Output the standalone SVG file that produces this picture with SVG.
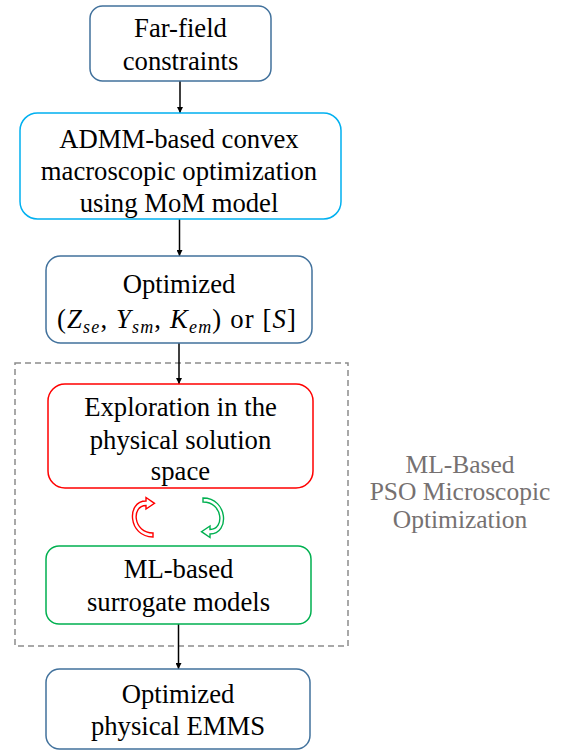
<svg xmlns="http://www.w3.org/2000/svg" width="569" height="751" viewBox="0 0 569 751">
  <style>
    .box { fill: #ffffff; stroke-width: 1.5; }
    .steel { stroke: #41719c; }
    .sky { stroke: #00b0f0; }
    .red { stroke: #ff0000; }
    .green { stroke: #00b050; }
    text { font-family: 'Times New Roman', Times, 'Liberation Serif', Tinos, 'Nimbus Roman', 'Noto Serif', FreeSerif, serif; font-size: 26.7px; fill: #000000; text-anchor: middle; }
    .side { fill: #767171; font-size: 25.5px; }
    .math { font-style: italic; }
    .sub { font-style: italic; font-size: 18px; }
    .conn { stroke: #000000; stroke-width: 1.5; fill: none; marker-end: url(#head); }
    .frame { fill: none; stroke: #8c8c8c; stroke-width: 1.5; stroke-dasharray: 6 4; }
    .loop { fill: #ffffff; stroke-width: 1.4; stroke-linejoin: miter; }
  </style>
  <defs>
    <marker id="head" viewBox="0 0 10 10" refX="10" refY="5" markerWidth="6" markerHeight="6" markerUnits="userSpaceOnUse" orient="auto">
      <path d="M0,0 L10,5 L0,10 Z" fill="#000000"/>
    </marker>
    <!-- hollow curved arrow, opening to the right, head pointing right at the top -->
    <path id="curl" d="M153,537 C128,537 126,501 146,501 L146,497.5 L154.5,503.3 L146,509 L146,505.5 C131,505.5 133,533 153,533 Z"/>
  </defs>

  <!-- dashed frame around the microscopic optimisation loop -->
  <rect class="frame" x="15" y="363" width="333" height="283"/>
  <g id="pso-label">
    <text class="side" x="460" y="473">ML-Based</text>
    <text class="side" x="460" y="500">PSO Microscopic</text>
    <text class="side" x="460" y="528">Optimization</text>
  </g>

  <g id="connectors">
    <line class="conn" x1="180" y1="81" x2="180" y2="113"/>
    <line class="conn" x1="179.5" y1="219" x2="179.5" y2="256"/>
    <line class="conn" x1="179" y1="343" x2="179" y2="384"/>
    <line class="conn" x1="178.5" y1="624" x2="178.5" y2="669"/>
    <use href="#curl" class="loop red"/>
    <use href="#curl" class="loop green" transform="rotate(180 178 517.5)"/>
  </g>

  <g id="far-field">
    <rect class="box steel" x="90" y="6" width="181" height="75" rx="12.5"/>
    <text x="180.5" y="37">Far-field</text>
    <text x="180.5" y="69.5">constraints</text>
  </g>

  <g id="admm">
    <rect class="box sky" x="20" y="113" width="321" height="106" rx="17.5"/>
    <text x="179" y="148">ADMM-based convex</text>
    <text x="179" y="180">macroscopic optimization</text>
    <text x="179" y="212">using MoM model</text>
  </g>

  <g id="optimized-params">
    <rect class="box steel" x="46" y="256" width="266" height="87" rx="14.5"/>
    <text x="179" y="293">Optimized</text>
    <text x="176.5" y="328" textLength="239" lengthAdjust="spacing">(<tspan class="math">Z</tspan><tspan class="sub" dy="5">se</tspan><tspan dy="-5">, </tspan><tspan class="math">Y</tspan><tspan class="sub" dy="5">sm</tspan><tspan dy="-5">, </tspan><tspan class="math">K</tspan><tspan class="sub" dy="5">em</tspan><tspan dy="-5">) or [</tspan><tspan class="math">S</tspan>]</text>
  </g>

  <g id="exploration">
    <rect class="box red" x="48" y="384" width="265" height="104" rx="17"/>
    <text x="180.5" y="416">Exploration in the</text>
    <text x="180.5" y="449">physical solution</text>
    <text x="180.5" y="480">space</text>
  </g>

  <g id="surrogate">
    <rect class="box green" x="46" y="546" width="265" height="78" rx="13"/>
    <text x="178.5" y="578">ML-based</text>
    <text x="178.5" y="611">surrogate models</text>
  </g>

  <g id="emms">
    <rect class="box steel" x="46" y="669" width="264" height="80" rx="13.5"/>
    <text x="178" y="703">Optimized</text>
    <text x="178" y="735">physical EMMS</text>
  </g>
</svg>
